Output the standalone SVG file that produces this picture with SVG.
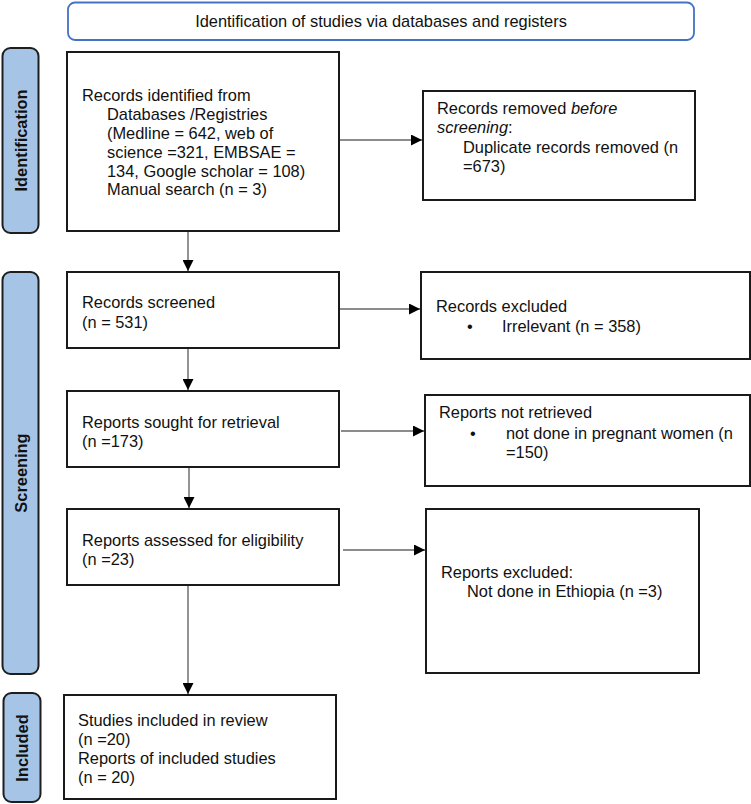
<svg xmlns="http://www.w3.org/2000/svg" width="751" height="804" viewBox="0 0 751 804">
<defs>
<style>
text{font-family:"Liberation Sans",Arial,sans-serif;font-size:16.4px;fill:#111;}
.box{fill:#fff;stroke:#1a1a1a;stroke-width:2;}
.side{fill:#a6c5e6;stroke:#1e1e1e;stroke-width:2;}
.lab{font-weight:bold;text-anchor:middle;}
.con{stroke:#666;stroke-width:1.4;fill:none;marker-end:url(#ah);}
</style>
<marker id="ah" viewBox="0 0 10 10" refX="10" refY="5" markerUnits="userSpaceOnUse" markerWidth="11" markerHeight="11" orient="auto">
<path d="M0,0 L10,5 L0,10 z" fill="#000"/>
</marker>
</defs>
<rect width="751" height="804" fill="#fff"/>
<g id="title">
<rect x="68" y="2.5" width="626" height="37.5" rx="7" fill="#fff" stroke="#4472c4" stroke-width="1.8"/>
<text x="381" y="27" text-anchor="middle">Identification of studies via databases and registers</text>
</g>
<g id="side-identification">
<rect class="side" x="2.5" y="48" width="36" height="185" rx="8"/>
<text class="lab" transform="translate(26.5,140.5) rotate(-90)">Identification</text>
</g>
<g id="side-screening">
<rect class="side" x="2.5" y="272" width="36" height="402" rx="8"/>
<text class="lab" transform="translate(26.5,473) rotate(-90)">Screening</text>
</g>
<g id="side-included">
<rect class="side" x="3.5" y="693" width="37" height="109" rx="8"/>
<text class="lab" transform="translate(27.5,748) rotate(-90)">Included</text>
</g>
<g id="identified">
<rect class="box" x="67" y="52" width="272" height="179"/>
<text x="82" y="101">Records identified from</text>
<text x="107" y="120">Databases /Registries</text>
<text x="107" y="139">(Medline = 642, web of</text>
<text x="107" y="158">science =321, EMBSAE =</text>
<text x="107" y="177">134, Google scholar = 108)</text>
<text x="107" y="195">Manual search (n = 3)</text>
</g>
<g id="removed">
<rect class="box" x="423" y="91" width="272" height="109"/>
<text x="437" y="114">Records removed <tspan font-style="italic">before</tspan></text>
<text x="437" y="133"><tspan font-style="italic">screening</tspan>:</text>
<text x="463" y="153">Duplicate records removed (n</text>
<text x="463" y="172">=673)</text>
</g>
<g id="screened">
<rect class="box" x="67" y="272" width="272" height="76"/>
<text x="82" y="308">Records screened</text>
<text x="82" y="328">(n = 531)</text>
</g>
<g id="excluded">
<rect class="box" x="421" y="272" width="329" height="87"/>
<text x="436" y="312">Records excluded</text>
<text x="467" y="332">•</text>
<text x="502" y="332">Irrelevant (n = 358)</text>
</g>
<g id="sought">
<rect class="box" x="67" y="391" width="272" height="76"/>
<text x="82" y="428">Reports sought for retrieval</text>
<text x="82" y="447">(n =173)</text>
</g>
<g id="not-retrieved">
<rect class="box" x="425" y="395" width="325" height="91"/>
<text x="439" y="418">Reports not retrieved</text>
<text x="470" y="439">•</text>
<text x="506" y="439">not done in pregnant women (n</text>
<text x="506" y="458">=150)</text>
</g>
<g id="assessed">
<rect class="box" x="67" y="509" width="272" height="76"/>
<text x="82" y="546">Reports assessed for eligibility</text>
<text x="82" y="565">(n =23)</text>
</g>
<g id="reports-excluded">
<rect class="box" x="426" y="509" width="273" height="164"/>
<text x="441" y="578">Reports excluded:</text>
<text x="467" y="597">Not done in Ethiopia (n =3)</text>
</g>
<g id="included">
<rect class="box" x="64" y="695" width="272" height="104"/>
<text x="78" y="726">Studies included in review</text>
<text x="78" y="745">(n =20)</text>
<text x="78" y="764">Reports of included studies</text>
<text x="78" y="783">(n = 20)</text>
</g>
<g id="connectors">
<line class="con" x1="188" y1="232" x2="188" y2="271"/>
<line class="con" x1="188" y1="349" x2="188" y2="390"/>
<line class="con" x1="189" y1="468" x2="189" y2="508"/>
<line class="con" x1="188" y1="586" x2="188" y2="694"/>
<line class="con" x1="340" y1="140" x2="422" y2="140"/>
<line class="con" x1="340" y1="309" x2="420" y2="309"/>
<line class="con" x1="341" y1="431" x2="424" y2="431"/>
<line class="con" x1="343" y1="550" x2="425" y2="550"/>
</g>
</svg>
